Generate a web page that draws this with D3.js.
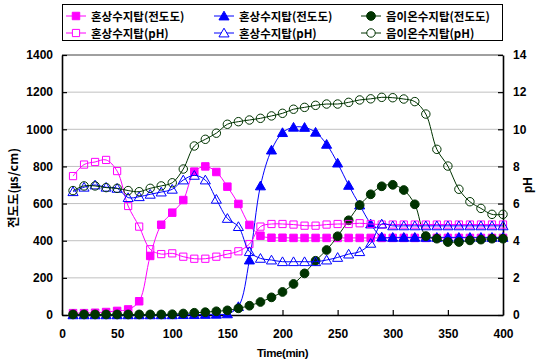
<!DOCTYPE html>
<html>
<head>
<meta charset="utf-8">
<script src="https://d3js.org/d3.v7.min.js"></script>
<style>
  body { margin: 0; background: #fff; }
  text { font-family: "Liberation Sans", Arial, sans-serif; font-weight: bold; }
  .kr { font-family: "Noto Sans CJK KR", sans-serif; font-weight: bold; }
</style>
</head>
<body>
<div id="chart"></div>
<script>
// time (min)
var times = d3.range(10, 401, 10);

// 혼상수지탑 (magenta) conductivity & pH
var mixedCondA = [10,10,12,16,22,30,74,318,486,551,619,772,800,770,691,598,485,427,416,416,415,415,415,415,415,415,415,415,415,415,415,415,415,415,415,415,415,415,415,415];
var mixedPhA = [7.48,8.1,8.24,8.35,7.75,5.87,4.76,3.54,3.28,3.32,3.14,3.03,3.03,3.14,3.28,3.43,3.82,4.76,4.9,4.9,4.87,4.81,4.81,4.87,4.9,4.9,4.94,4.9,4.87,4.87,4.87,4.87,4.87,4.87,4.87,4.87,4.87,4.87,4.87,4.87];

// 혼상수지탑 (blue) conductivity & pH
var mixedCondB = [1,1,1,1,1,1,1,1,1,1,2,2,3,4,6,45,296,695,888,982,1011,1010,984,919,818,698,592,490,420,418,418,418,418,418,418,418,418,418,418,418];
var mixedPhB = [6.64,6.88,7.0,6.88,6.82,6.32,6.37,6.5,6.62,6.77,7.27,7.52,7.27,6.23,5.2,4.76,3.41,3.05,2.96,2.87,2.87,2.87,2.87,2.96,3.1,3.28,3.41,3.86,4.9,4.8,4.8,4.8,4.8,4.8,4.8,4.8,4.8,4.8,4.8,4.8];

// 음이온수지탑 (green) conductivity & pH
var anionCond = [3,3,3,3,3,3,3,3,3,4,8,12,15,20,25,36,50,70,95,124,167,224,292,350,424,510,592,650,693,701,673,596,425,411,393,393,402,406,411,411];
var anionPh = [6.7,6.95,6.95,6.86,6.82,6.7,6.64,6.82,6.95,7.12,7.86,9.1,9.46,9.79,10.27,10.41,10.5,10.59,10.72,10.86,11.08,11.18,11.29,11.36,11.36,11.45,11.58,11.64,11.72,11.7,11.63,11.49,10.82,8.92,8.02,6.77,6.1,5.74,5.42,5.42];

var condTicks = d3.range(0, 1401, 200);
var phTicks = d3.range(0, 15, 2);
var timeTicks = d3.range(0, 401, 50);

var W = 542, H = 361;
var margin = { top: 55, right: 39, bottom: 46, left: 62 };

var svg = d3.select("#chart").append("svg")
  .attr("width", W).attr("height", H);

var x = d3.scaleLinear().domain([0, 400]).range([margin.left, W - margin.right]);
var y = d3.scaleLinear().domain([0, 1400]).range([H - margin.bottom, margin.top]);
var y2 = d3.scaleLinear().domain([0, 14]).range([H - margin.bottom, margin.top]);

// gridlines
svg.append("g").selectAll("line")
  .data(condTicks.filter(function (d) { return d > 0 && d < 1400; }))
  .enter().append("line")
  .attr("x1", x(0)).attr("x2", x(400))
  .attr("y1", function (d) { return y(d); }).attr("y2", function (d) { return y(d); })
  .attr("stroke", "#c0c0c0").attr("stroke-width", 1);

// top frame
svg.append("line")
  .attr("x1", x(0)).attr("x2", x(400))
  .attr("y1", y(1400)).attr("y2", y(1400))
  .attr("stroke", "#404040").attr("stroke-width", 1);

// axes
var gx = svg.append("g")
  .attr("transform", "translate(0," + y(0) + ")")
  .call(d3.axisBottom(x).tickValues(timeTicks).tickFormat(d3.format("d"))
    .tickSizeInner(-5).tickSizeOuter(0).tickPadding(14));
var gy = svg.append("g")
  .attr("transform", "translate(" + x(0) + ",0)")
  .call(d3.axisLeft(y).tickValues(condTicks).tickFormat(d3.format("d"))
    .tickSizeInner(-5).tickSizeOuter(0).tickPadding(9));
var gy2 = svg.append("g")
  .attr("transform", "translate(" + x(400) + ",0)")
  .call(d3.axisRight(y2).tickValues(phTicks).tickFormat(d3.format("d"))
    .tickSizeInner(-5).tickSizeOuter(0).tickPadding(10));

[gx, gy, gy2].forEach(function (g) {
  g.select(".domain").attr("stroke", "#000").attr("stroke-width", 1.6);
  g.selectAll(".tick line").attr("stroke", "#000").attr("stroke-width", 1.2);
  g.selectAll(".tick text").attr("font-size", 12).attr("font-weight", "bold")
    .attr("font-family", "Liberation Sans, Arial, sans-serif").attr("fill", "#000");
});

// axis titles
svg.append("text")
  .attr("x", x(200)).attr("y", 357)
  .attr("text-anchor", "middle").attr("font-size", 11.5)
  .attr("letter-spacing", -0.4)
  .text("Time(min)");

svg.append("text").attr("class", "kr")
  .attr("transform", "translate(18," + ((y(0) + y(1400)) / 2 + 3) + ") rotate(-90)")
  .attr("text-anchor", "middle").attr("font-size", 12.5)
  .text("전도도(㎲/cm)");

svg.append("text")
  .attr("transform", "translate(532," + ((y(0) + y(1400)) / 2) + ") rotate(-90)")
  .attr("text-anchor", "middle").attr("font-size", 12)
  .text("pH");

// series
var series = [
  { name: "혼상수지탑(전도도)", vals: mixedCondA, scale: y, color: "#ff00ff", shape: d3.symbolSquare, size: 56, filled: true },
  { name: "혼상수지탑(전도도)", vals: mixedCondB, scale: y, color: "#0000ff", shape: d3.symbolTriangle, size: 44, filled: true },
  { name: "음이온수지탑(전도도)", vals: anionCond, scale: y, color: "#003300", shape: d3.symbolCircle, size: 60, filled: true },
  { name: "혼상수지탑(pH)", vals: mixedPhA, scale: y2, color: "#ff00ff", shape: d3.symbolSquare, size: 52, filled: false },
  { name: "혼상수지탑(pH)", vals: mixedPhB, scale: y2, color: "#0000ff", shape: d3.symbolTriangle, size: 44, filled: false },
  { name: "음이온수지탑(pH)", vals: anionPh, scale: y2, color: "#003300", shape: d3.symbolCircle, size: 56, filled: false }
];

series.forEach(function (s) {
  var pts = times.map(function (t, i) { return [t, s.vals[i]]; });
  var line = d3.line()
    .x(function (d) { return x(d[0]); })
    .y(function (d) { return s.scale(d[1]); })
    .curve(d3.curveCatmullRom.alpha(0.5));
  svg.append("path").datum(pts)
    .attr("d", line)
    .attr("fill", "none").attr("stroke", s.color).attr("stroke-width", 1);
  svg.append("g").selectAll("path")
    .data(pts).enter().append("path")
    .attr("d", d3.symbol().type(s.shape).size(s.size))
    .attr("transform", function (d) {
      var dy = s.shape === d3.symbolTriangle ? 1 : 0;
      return "translate(" + x(d[0]) + "," + (s.scale(d[1]) + dy) + ")";
    })
    .attr("fill", s.filled ? s.color : "none")
    .attr("stroke", s.color).attr("stroke-width", 1);
});

// legend
var legend = svg.append("g");
legend.append("rect")
  .attr("x", 62.5).attr("y", 4.5).attr("width", 440).attr("height", 36)
  .attr("fill", "#fff").attr("stroke", "#000").attr("stroke-width", 1);

var legCols = [66, 214, 361];
var legRows = [16, 33];
series.forEach(function (s, i) {
  var cx = legCols[i % 3], cy = legRows[Math.floor(i / 3)];
  legend.append("line")
    .attr("x1", cx).attr("x2", cx + 20).attr("y1", cy).attr("y2", cy)
    .attr("stroke", s.color).attr("stroke-width", 1);
  legend.append("path")
    .attr("d", d3.symbol().type(s.shape).size(s.size))
    .attr("transform", "translate(" + (cx + 10) + "," + (cy + (s.shape === d3.symbolTriangle ? 1 : 0)) + ")")
    .attr("fill", s.filled ? s.color : "#fff")
    .attr("stroke", s.color).attr("stroke-width", 1);
  legend.append("text").attr("class", "kr")
    .attr("x", cx + 25).attr("y", cy + 4.5)
    .attr("font-size", 11.5)
    .text(s.name);
});
</script>
</body>
</html>
